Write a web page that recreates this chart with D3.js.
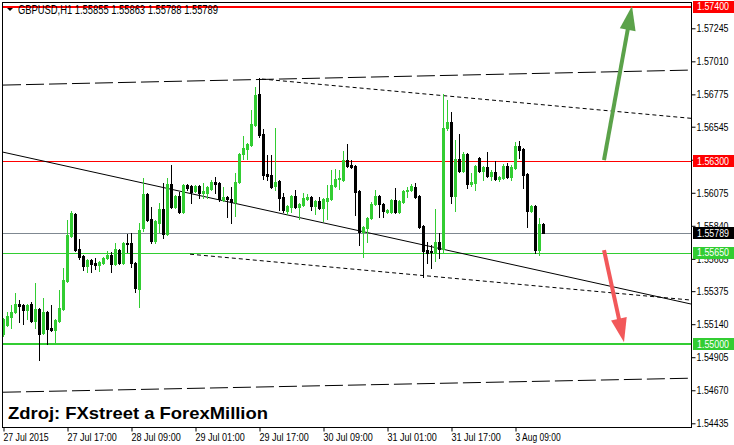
<!DOCTYPE html>
<html><head><meta charset="utf-8">
<script src="https://cdn.jsdelivr.net/npm/d3@7"></script>
<style>body{margin:0;background:#fff;} svg{display:block;}</style>
</head><body>
<svg id="c" width="734" height="445"></svg>
<script>
const symbolTitle = "GBPUSD,H1";
const titleValues = ["1.55855","1.55863","1.55788","1.55789"];
const open = [1.55069,1.55133,1.55190,1.55226,1.55282,1.55275,1.55240,1.55282,1.55161,1.55247,1.55076,1.55226,1.55112,1.55097,1.55161,1.55247,1.55446,1.55766,1.55923,1.55674,1.55624,1.55553,1.55596,1.55574,1.55560,1.55574,1.55610,1.55631,1.55567,1.55667,1.55574,1.55717,1.55717,1.55574,1.55389,1.55823,1.56065,1.55887,1.55731,1.55859,1.55959,1.55781,1.56137,1.55973,1.56051,1.55937,1.56129,1.56122,1.56087,1.56122,1.56072,1.56072,1.56101,1.56151,1.56144,1.56023,1.56044,1.56030,1.56008,1.56151,1.56350,1.56386,1.56414,1.56556,1.56777,1.56492,1.56208,1.56201,1.56122,1.56158,1.56044,1.55944,1.55973,1.56051,1.55973,1.55987,1.56030,1.56044,1.55980,1.56016,1.55966,1.56016,1.56030,1.56122,1.56172,1.56165,1.56307,1.56272,1.56265,1.56087,1.55795,1.55823,1.55895,1.55994,1.56051,1.55994,1.55937,1.55937,1.56023,1.55937,1.56008,1.56087,1.56094,1.56115,1.56051,1.55838,1.55667,1.55660,1.55653,1.55724,1.55674,1.56535,1.56578,1.56051,1.56314,1.56229,1.56350,1.56137,1.56144,1.56322,1.56229,1.56258,1.56193,1.56222,1.56172,1.56179,1.56265,1.56186,1.56250,1.56407,1.56386,1.56208,1.55944,1.55980,1.55667,1.55855];
const high = [1.55183,1.55226,1.55275,1.55361,1.55311,1.55282,1.55282,1.55297,1.55432,1.55254,1.55325,1.55233,1.55275,1.55176,1.55382,1.55539,1.55880,1.55944,1.55930,1.55745,1.55631,1.55603,1.55603,1.55610,1.55589,1.55617,1.55660,1.55653,1.55717,1.55674,1.55724,1.55781,1.55788,1.55581,1.55859,1.56179,1.56072,1.55973,1.55880,1.56001,1.56144,1.56179,1.56272,1.56058,1.56080,1.56137,1.56137,1.56129,1.56129,1.56129,1.56144,1.56122,1.56165,1.56186,1.56151,1.56115,1.56051,1.56115,1.56215,1.56357,1.56478,1.56428,1.56663,1.56827,1.56891,1.56528,1.56343,1.56343,1.56535,1.56165,1.56072,1.55987,1.56058,1.56094,1.56001,1.56072,1.56065,1.56051,1.56023,1.56044,1.56037,1.56129,1.56236,1.56243,1.56236,1.56371,1.56421,1.56307,1.56272,1.56094,1.55838,1.55902,1.56008,1.56094,1.56058,1.56001,1.55959,1.56030,1.56108,1.56023,1.56094,1.56115,1.56137,1.56144,1.56058,1.55845,1.55724,1.55702,1.55959,1.55788,1.56777,1.56734,1.56649,1.56450,1.56492,1.56364,1.56357,1.56215,1.56272,1.56329,1.56265,1.56364,1.56236,1.56300,1.56193,1.56279,1.56286,1.56272,1.56435,1.56443,1.56393,1.56215,1.55987,1.55987,1.55895,1.55863];
const low = [1.55055,1.55126,1.55112,1.55218,1.55154,1.55140,1.55176,1.55154,1.55112,1.54884,1.55069,1.54998,1.55090,1.55005,1.55154,1.55240,1.55439,1.55759,1.55660,1.55603,1.55524,1.55510,1.55510,1.55532,1.55517,1.55567,1.55603,1.55510,1.55560,1.55567,1.55567,1.55653,1.55546,1.55368,1.55261,1.55802,1.55873,1.55717,1.55717,1.55795,1.55752,1.55774,1.55966,1.55966,1.55930,1.55930,1.56094,1.56001,1.56080,1.56037,1.56037,1.56037,1.56094,1.56072,1.56016,1.56016,1.55902,1.55859,1.55909,1.56144,1.56314,1.56314,1.56407,1.56549,1.56471,1.56172,1.56165,1.56108,1.56094,1.55951,1.55937,1.55923,1.55937,1.55966,1.55887,1.55980,1.56023,1.55951,1.55923,1.55959,1.55873,1.55887,1.56023,1.56115,1.56101,1.56158,1.56258,1.56250,1.55916,1.55702,1.55617,1.55724,1.55887,1.55987,1.55902,1.55902,1.55930,1.55930,1.55930,1.55930,1.56001,1.56044,1.56087,1.56037,1.55823,1.55475,1.55574,1.55539,1.55589,1.55610,1.55653,1.56521,1.56001,1.55944,1.56222,1.56222,1.56108,1.56122,1.56094,1.56222,1.56165,1.56186,1.56165,1.56165,1.56158,1.56172,1.56179,1.56165,1.56243,1.56322,1.56108,1.55830,1.55937,1.55645,1.55631,1.55788];
const close = [1.55176,1.55197,1.55226,1.55282,1.55268,1.55240,1.55275,1.55161,1.55247,1.55069,1.55226,1.55105,1.55097,1.55169,1.55254,1.55453,1.55774,1.55930,1.55667,1.55617,1.55553,1.55596,1.55567,1.55560,1.55581,1.55610,1.55631,1.55567,1.55674,1.55574,1.55717,1.55709,1.55574,1.55396,1.55809,1.56065,1.55880,1.55731,1.55873,1.55959,1.55781,1.56137,1.55973,1.56051,1.55937,1.56129,1.56108,1.56080,1.56122,1.56072,1.56087,1.56115,1.56151,1.56137,1.56030,1.56044,1.56030,1.56008,1.56151,1.56350,1.56393,1.56421,1.56564,1.56770,1.56485,1.56201,1.56193,1.56115,1.56151,1.56037,1.55951,1.55980,1.56051,1.55973,1.55994,1.56037,1.56044,1.55980,1.56016,1.55966,1.56030,1.56037,1.56129,1.56172,1.56179,1.56307,1.56265,1.56258,1.56080,1.55795,1.55830,1.55895,1.55994,1.56051,1.55994,1.55944,1.55951,1.56023,1.55937,1.56016,1.56087,1.56094,1.56122,1.56044,1.55830,1.55660,1.55645,1.55653,1.55724,1.55674,1.56535,1.56578,1.56051,1.56314,1.56229,1.56350,1.56137,1.56151,1.56265,1.56229,1.56258,1.56193,1.56222,1.56172,1.56186,1.56265,1.56186,1.56258,1.56407,1.56378,1.56201,1.55944,1.55980,1.55667,1.55852,1.55789];

const timeTickIndex = [0,16,32,48,64,80,96,112,128];
const timeTickLabels = ["27 Jul 2015","27 Jul 17:00","28 Jul 09:00","29 Jul 01:00","29 Jul 17:00","30 Jul 09:00","31 Jul 01:00","31 Jul 17:00","3 Aug 09:00"];
const priceTicks = [1.57245,1.57010,1.56775,1.56545,1.56310,1.56075,1.55840,1.55605,1.55375,1.55140,1.54905,1.54670,1.54435];

const levelPrices = [1.57400,1.56300,1.55789,1.55650,1.55000];
const levelKinds = ["resistance","resistance","bid","support","support"];

const trendKinds = ["dash","dot","solid","dot","dash"];
const trendStartIndex = [0,64.75,0,46.75,0];
const trendStartPrice = [1.56841,1.56884,1.56364,1.55638,1.54656];
const trendEndIndex = [172.25,172.25,172.25,172.25,172.25];
const trendEndPrice = [1.56948,1.56604,1.55282,1.55311,1.54756];

const arrowKinds = ["up","down"];
const arrowFromIndex = [150.25,150.25];
const arrowFromPrice = [1.56307,1.55667];
const arrowToIndex = [157.25,155.25];
const arrowToPrice = [1.57403,1.55012];

const sourceNote = "Zdroj: FXstreet a ForexMillion";

// ---------- drawing ----------
const svg = d3.select("#c");
const L = 2, R = 692, T = 2, B = 427;
const x = d3.scaleLinear().domain([-0.25, 172.25]).range([L, R]);
const y = d3.scaleLinear().domain([1.54435, 1.57245]).range([423.3, 28.3]);
const fmt = d3.format(".5f");
const FONT = "'Liberation Sans',Arial,sans-serif";

svg.append("rect").attr("width",734).attr("height",445).attr("fill","#fff");
svg.append("defs").append("clipPath").attr("id","plot")
  .append("rect").attr("x",L).attr("y",T).attr("width",R-L).attr("height",B-T);

const plot = svg.append("g").attr("clip-path","url(#plot)");

// horizontal levels
const levelColor = {resistance:"#ff0000", bid:"#7f8891", support:"#32cd32"};
levelPrices.forEach((p,k)=>{
  const w = (k===0||k===4)?2:1;
  const yy = Math.round(y(p)) + (w===1?0.5:0);
  plot.append("line").attr("x1",L).attr("x2",R).attr("y1",yy).attr("y2",yy)
    .attr("stroke",levelColor[levelKinds[k]]).attr("stroke-width",w);
});

// trend lines
trendKinds.forEach((kind,k)=>{
  const ln = plot.append("line")
    .attr("x1",x(trendStartIndex[k])).attr("y1",y(trendStartPrice[k]))
    .attr("x2",x(trendEndIndex[k])).attr("y2",y(trendEndPrice[k]))
    .attr("stroke","#000").attr("stroke-width",1);
  if(kind==="dash") ln.attr("stroke-dasharray","18,5");
  if(kind==="dot") ln.attr("stroke-dasharray","4,3");
});

// candles
const bars = d3.range(open.length);
const cg = plot.append("g");
bars.forEach(i=>{
  const up = close[i] >= open[i];
  const col = up ? "#32cd32" : "#000000";
  const cx = Math.round(x(i));
  cg.append("line").attr("x1",cx+0.5).attr("x2",cx+0.5)
    .attr("y1",Math.round(y(high[i]))).attr("y2",Math.round(y(low[i]))+1)
    .attr("stroke",col).attr("stroke-width",1);
  const yt = Math.round(y(Math.max(open[i],close[i])));
  const yb = Math.round(y(Math.min(open[i],close[i])));
  cg.append("rect").attr("x",cx-1).attr("y",yt).attr("width",3).attr("height",Math.max(1,yb-yt+1))
    .attr("fill",col);
});

// arrows
const arrowColor = {up:"#5ba24a", down:"#f2585a"};
arrowKinds.forEach((kind,k)=>{
  const x1 = x(arrowFromIndex[k]), y1 = y(arrowFromPrice[k]);
  const x2 = x(arrowToIndex[k]), y2 = y(arrowToPrice[k]);
  const dx = x2-x1, dy = y2-y1, len = Math.hypot(dx,dy);
  const ux = dx/len, uy = dy/len, px = -uy, py = ux;
  const hl = 24, hw = 8;
  const bx = x2-ux*hl, by = y2-uy*hl;
  plot.append("line").attr("x1",x1).attr("y1",y1).attr("x2",bx+ux*2).attr("y2",by+uy*2)
    .attr("stroke",arrowColor[kind]).attr("stroke-width",4).attr("stroke-linecap","butt");
  plot.append("path")
    .attr("d",`M${x2},${y2}L${bx+px*hw},${by+py*hw}L${bx-px*hw},${by-py*hw}Z`)
    .attr("fill",arrowColor[kind]);
});

// frame
svg.append("rect").attr("x",L+0.5).attr("y",T+0.5).attr("width",R-L-1).attr("height",B-T)
  .attr("fill","none").attr("stroke","#000").attr("stroke-width",1);

// right price axis
const ra = svg.append("g").attr("transform",`translate(${R-0.5},0)`)
  .call(d3.axisRight(y).tickValues(priceTicks).tickSize(4).tickPadding(1).tickFormat(fmt));
ra.select(".domain").remove();
ra.selectAll(".tick line").attr("stroke","#000");
ra.selectAll(".tick text").attr("font-family",FONT).attr("font-size",11).attr("fill","#000")
  .attr("textLength",32).attr("lengthAdjust","spacingAndGlyphs");

// level labels
const labelBg = {resistance:"#ff0000", bid:"#000000", support:"#32cd32"};
levelPrices.forEach((p,k)=>{
  const yy = y(p);
  svg.append("rect").attr("x",R+1).attr("y",Math.round(yy)-6).attr("width",734-R-1).attr("height",12)
    .attr("fill",labelBg[levelKinds[k]]);
  svg.append("text").attr("x",R+5).attr("y",yy).attr("dy","0.36em")
    .attr("font-family",FONT).attr("font-size",11).attr("fill","#fff")
    .attr("textLength",32).attr("lengthAdjust","spacingAndGlyphs").text(fmt(p));
});

// bottom time axis
const ba = svg.append("g").attr("transform",`translate(0,${B+0.5})`)
  .call(d3.axisBottom(x).tickValues(timeTickIndex).tickSize(4).tickFormat((d,k)=>timeTickLabels[k]));
ba.select(".domain").remove();
ba.selectAll(".tick line").attr("stroke","#000").attr("transform","translate(0.5,0)");
ba.selectAll(".tick text").attr("font-family",FONT).attr("font-size",11).attr("fill","#000")
  .attr("text-anchor","start").attr("x",0).attr("y",13).attr("dy","0")
  .each(function(d,k){ d3.select(this).attr("textLength",timeTickLabels[k].length*4.1).attr("lengthAdjust","spacingAndGlyphs"); });

// title
svg.append("path").attr("d","M7,8L13,8L10,11Z").attr("fill","#000");
svg.append("text").attr("x",18).attr("y",14).attr("font-family",FONT).attr("font-size",12)
  .attr("fill","#000").attr("textLength",200).attr("lengthAdjust","spacingAndGlyphs")
  .text(symbolTitle + "  " + titleValues.join(" "));

// source note
svg.append("text").attr("x",8).attr("y",419).attr("font-family","'Liberation Sans',Arial,sans-serif")
  .attr("font-weight","bold").attr("font-size",17).attr("fill","#000")
  .attr("textLength",260).attr("lengthAdjust","spacingAndGlyphs").text(sourceNote);
</script>
</body></html>
